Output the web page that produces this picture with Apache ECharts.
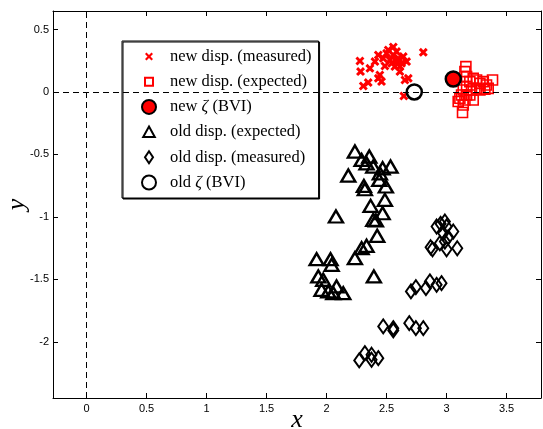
<!DOCTYPE html>
<html>
<head>
<meta charset="utf-8">
<script src="https://cdn.jsdelivr.net/npm/echarts@6/dist/echarts.min.js"></script>
<style>
  html, body { margin: 0; padding: 0; background: #fff; }
  #chart { width: 543px; height: 429px; }
</style>
</head>
<body>
<div id="chart"></div>
<script>
// tick values
var xTicks = [0, 0.5, 1, 1.5, 2, 2.5, 3, 3.5]
var yTicks = [-2, -1.5, -1, -0.5, 0, 0.5]

// new dispersion, measured (crosses)
var newMeasured = [
  [2.278, 0.248], [2.283, 0.163], [2.306, 0.048], [2.347, 0.075], [2.361, 0.189],
  [2.403, 0.243], [2.431, 0.296], [2.444, 0.136], [2.458, 0.083], [2.431, 0.109],
  [2.472, 0.269], [2.5, 0.309], [2.514, 0.336], [2.528, 0.256], [2.542, 0.229],
  [2.556, 0.296], [2.569, 0.203], [2.583, 0.323], [2.597, 0.269], [2.611, 0.163],
  [2.625, 0.229], [2.639, 0.283], [2.653, 0.096], [2.667, 0.243], [2.681, 0.109],
  [2.644, -0.032], [2.806, 0.317], [2.486, 0.208], [2.583, 0.243], [2.611, 0.203],
  [2.556, 0.36]
]
// new dispersion, expected (squares)
var newExpected = [
  [3.161, 0.203], [3.153, 0.163], [3.167, 0.123], [3.194, 0.083], [3.222, 0.109],
  [3.25, 0.096], [3.278, 0.069], [3.306, 0.083], [3.333, 0.056], [3.383, 0.096],
  [3.347, 0.029], [3.25, 0.029], [3.208, 0.016], [3.167, 0.043], [3.139, 0.016],
  [3.125, -0.024], [3.111, -0.051], [3.153, -0.064], [3.097, -0.077], [3.139, -0.104],
  [3.133, -0.165], [3.222, -0.064], [3.194, -0.024], [3.278, 0.016], [3.319, 0.021],
  [3.167, -0.024]
]
var newZeta = [[3.056, 0.104]]
// old dispersion, expected (triangles)
var oldExpected = [
  [2.236, -0.477], [2.292, -0.544], [2.356, -0.517], [2.333, -0.571], [2.389, -0.597],
  [2.467, -0.611], [2.533, -0.597], [2.444, -0.651], [2.181, -0.669], [2.311, -0.752],
  [2.319, -0.779], [2.494, -0.757], [2.439, -0.704], [2.486, -0.864], [2.367, -0.912],
  [2.467, -0.971], [2.389, -1.024], [2.411, -1.029], [2.078, -0.997], [2.422, -1.152],
  [2.333, -1.232], [2.292, -1.251], [2.236, -1.331], [1.917, -1.339], [2.033, -1.339],
  [2.042, -1.384], [1.931, -1.477], [1.972, -1.504], [1.958, -1.584], [2.083, -1.557],
  [2.014, -1.597], [2.056, -1.611], [2.139, -1.611], [2.394, -1.477]
]
// old dispersion, measured (diamonds)
var oldMeasured = [
  [2.917, -1.077], [2.95, -1.056], [2.986, -1.037], [2.972, -1.131], [3.014, -1.163],
  [3.056, -1.117], [2.986, -1.197], [2.883, -1.259], [2.867, -1.243], [3.0, -1.259],
  [3.089, -1.251], [2.944, -1.211], [2.703, -1.597], [2.744, -1.563], [2.828, -1.571],
  [2.861, -1.517], [2.917, -1.544], [2.958, -1.531], [2.472, -1.877], [2.556, -1.909],
  [2.556, -1.891], [2.689, -1.851], [2.744, -1.891], [2.806, -1.891], [2.272, -2.149],
  [2.319, -2.091], [2.375, -2.104], [2.375, -2.144], [2.431, -2.131], [3.0, -1.077]
]
var oldZeta = [[2.731, 0.0]]

var crossPath = 'path://M0,2.3L2.3,0L5,2.7L7.7,0L10,2.3L7.3,5L10,7.7L7.7,10L5,7.3L2.3,10L0,7.7L2.7,5Z'
// legend icons drawn inside a 14x14 box so they keep their own size
var pad = 'M0,0M14,14'
var legendCross = 'path://' + pad + 'M3,4.5L4.5,3L7,5.5L9.5,3L11,4.5L8.5,7L11,9.5L9.5,11L7,8.5L4.5,11L3,9.5L5.5,7Z'
var legendSquare = 'path://' + pad + 'M3,3L11,3L11,11L3,11Z'
var legendTriangle = 'path://' + pad + 'M7,1.5L12.8,12L1.2,12Z'
var legendDiamond = 'path://' + pad + 'M7,1L11,7L7,13L3,7Z'
var tickFont = { fontFamily: 'Liberation Sans', fontSize: 11, color: '#000' }

function frameAxis(pos, ticks, extra) {
  var ax = {
    type: 'value',
    position: pos,
    axisLine: { show: true, onZero: false, lineStyle: { color: '#000', width: 1 } },
    axisTick: { show: true, inside: true, length: 5, customValues: ticks, lineStyle: { color: '#000' } },
    axisLabel: { show: false },
    splitLine: { show: false }
  }
  return Object.assign(ax, extra)
}

var chart = echarts.init(document.getElementById('chart'))
var option = {
  animation: false,
  grid: { left: 53, right: 2, top: 11, bottom: 31, containLabel: false, outerBoundsMode: 'none' },
  legend: {
    orient: 'vertical',
    left: 122,
    top: 41,
    padding: [7, 7, 7, 19],
    itemWidth: 14,
    itemHeight: 14,
    itemGap: 8.2,
    backgroundColor: '#fff',
    borderColor: '#000',
    borderWidth: 1,
    borderRadius: 0,
    shadowColor: '#000',
    shadowOffsetX: 1,
    shadowOffsetY: 1,
    shadowBlur: 0,
    data: [
      { name: 'new disp. (measured)', icon: legendCross },
      { name: 'new disp. (expected)', icon: legendSquare },
      { name: 'new ζ (BVI)', icon: 'circle' },
      { name: 'old disp. (expected)', icon: legendTriangle },
      { name: 'old disp. (measured)', icon: legendDiamond },
      { name: 'old ζ (BVI)', icon: 'circle' }
    ],
    formatter: function (name) { return name.replace('ζ', '{z|ζ}') },
    textStyle: {
      fontFamily: 'Liberation Serif',
      fontSize: 16.5,
      lineHeight: 14,
      padding: [0, 0, 0, 9],
      color: '#000',
      rich: { z: { fontStyle: 'italic', fontFamily: 'Liberation Serif', fontSize: 16.5, lineHeight: 14 } }
    }
  },
  xAxis: [
    frameAxis('bottom', xTicks, {
      min: -0.28,
      max: 3.787,
      axisLabel: Object.assign({ show: true, margin: 5, customValues: xTicks }, tickFont),
      name: 'x',
      nameLocation: 'middle',
      nameGap: 9,
      nameMoveOverlap: false,
      nameTextStyle: { fontFamily: 'Liberation Serif', fontStyle: 'italic', fontSize: 26, color: '#000' }
    }),
    frameAxis('top', xTicks, { min: -0.28, max: 3.787 })
  ],
  yAxis: [
    frameAxis('left', yTicks, {
      min: -2.45,
      max: 0.648,
      axisLabel: Object.assign({ show: true, margin: 4, customValues: yTicks }, tickFont),
      name: 'y',
      nameLocation: 'middle',
      nameGap: 23,
      nameMoveOverlap: false,
      nameRotate: 90,
      nameTextStyle: { fontFamily: 'Liberation Serif', fontStyle: 'italic', fontSize: 26, color: '#000' }
    }),
    frameAxis('right', yTicks, { min: -2.45, max: 0.648 })
  ],
  series: [
    {
      name: 'new disp. (measured)',
      type: 'scatter',
      symbol: crossPath,
      symbolSize: 9,
      itemStyle: { color: '#ff0000', opacity: 1 },
      data: newMeasured,
      markLine: {
        silent: true,
        symbol: ['none', 'none'],
        label: { show: false },
        lineStyle: { color: '#000', type: [6, 4], width: 1 },
        data: [{ xAxis: 0 }, { yAxis: 0 }]
      }
    },
    {
      name: 'new disp. (expected)',
      type: 'scatter',
      symbol: 'rect',
      symbolSize: 10,
      itemStyle: { color: 'rgba(255,255,255,0)', borderColor: '#ff0000', borderWidth: 1.6, opacity: 1 },
      data: newExpected
    },
    {
      name: 'new ζ (BVI)',
      type: 'scatter',
      symbol: 'circle',
      symbolSize: 15,
      itemStyle: { color: '#ff0000', borderColor: '#000', borderWidth: 2.5, opacity: 1 },
      data: newZeta
    },
    {
      name: 'old disp. (expected)',
      type: 'scatter',
      symbol: 'triangle',
      symbolSize: [14, 12],
      itemStyle: { color: 'rgba(255,255,255,0)', borderColor: '#000', borderWidth: 2.4, opacity: 1 },
      data: oldExpected
    },
    {
      name: 'old disp. (measured)',
      type: 'scatter',
      symbol: 'diamond',
      symbolSize: [10, 14],
      itemStyle: { color: 'rgba(255,255,255,0)', borderColor: '#000', borderWidth: 2, opacity: 1 },
      data: oldMeasured
    },
    {
      name: 'old ζ (BVI)',
      type: 'scatter',
      symbol: 'circle',
      symbolSize: 15,
      itemStyle: { color: '#fff', borderColor: '#000', borderWidth: 2.5, opacity: 1 },
      data: oldZeta
    }
  ]
}
chart.setOption(option)
</script>
</body>
</html>
